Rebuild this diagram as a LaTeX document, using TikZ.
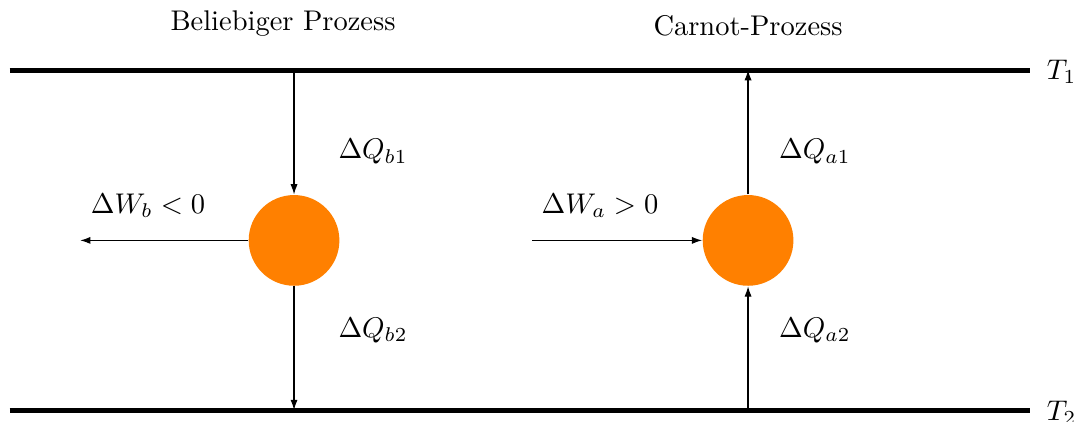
\documentclass[tikz,border=0pt]{standalone}
\usepackage{amsmath,amssymb}
\usepackage{tikz}
\usetikzlibrary{arrows.meta,calc,positioning}

\begin{document}
\begin{tikzpicture}[every node/.style={align=center},
  reservoir/.style={line width=1.75pt},
  flow/.style={-{Latex[length=3.6pt,width=2.5pt]}},
  machine/.style={circle,fill=orange,minimum size=1.12cm,inner sep=0pt}]
\useasboundingbox (0,0) rectangle (13.37,5.198);
% Waermebehaelter
\coordinate (T1w) at (0.12,4.333); \coordinate (T1e) at (12.72,4.333);
\coordinate (T2w) at (0.12,0.136); \coordinate (T2e) at (12.72,0.136);
\draw[reservoir] (T1w) -- (T1e);
\draw[reservoir] (T2w) -- (T2e);
\node[anchor=west] (t1) at (12.8,4.31) {$T_1$};
\node[anchor=west] (t2) at (12.8,0.10) {$T_2$};
% Maschinen
\node[machine] (mb) at (3.63,2.23) {};
\node[machine] (ma) at (9.235,2.23) {};
\node (titleb) at (3.494,4.901) {Beliebiger Prozess};
\node (titlea) at (9.235,4.877) {Carnot-Prozess};
\coordinate (b1) at (mb |- T1w); \coordinate (b2) at (mb |- T2w);
\coordinate (a1) at (ma |- T1w); \coordinate (a2) at (ma |- T2w);
\coordinate (wb) at (0.99,2.23); \coordinate (wa) at (6.57,2.23);
% Fluesse
\draw[flow] (b1) -- (mb);
\draw[flow] (mb) -- (b2);
\draw[flow] (mb) -- (wb);
\draw[flow] (a2) -- (ma);
\draw[flow] (ma) -- (a1);
\draw[flow] (wa) -- (ma);
\node (qb1) at (4.605,3.321) {$\Delta Q_{b1}$};
\node (qb2) at (4.605,1.123) {$\Delta Q_{b2}$};
\node (wbl) at (1.827,2.655) {$\Delta W_b < 0$};
\node (qa1) at (10.06,3.321) {$\Delta Q_{a1}$};
\node (qa2) at (10.06,1.123) {$\Delta Q_{a2}$};
\node (wal) at (7.407,2.655) {$\Delta W_a > 0$};
\end{tikzpicture}
\end{document}
